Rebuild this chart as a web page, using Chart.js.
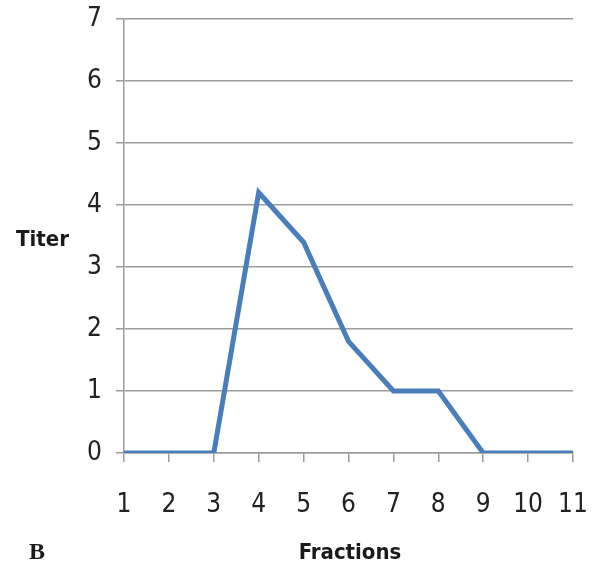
<!DOCTYPE html>
<html>
<head>
<meta charset="utf-8">
<script src="https://cdn.jsdelivr.net/npm/chart.js@4.4.1/dist/chart.umd.min.js"></script>
<style>
  html, body { margin: 0; padding: 0; background: #fff; }
  #wrap { width: 598px; height: 572px; position: relative; }
</style>
</head>
<body>
<div id="wrap"><canvas id="titerChart"></canvas></div>
<script>
// datos
const fractions = ['1', '2', '3', '4', '5', '6', '7', '8', '9', '10', '11'];
const titer = [0, 0, 0, 4.2, 3.4, 1.8, 1.0, 1.0, 0, 0, 0];
const yMin = 0;
const yMax = 7;

const tickFont = { family: "'Liberation Sans Narrow', 'DejaVu Sans Condensed', Lato, sans-serif", size: 26 };
const gridGray = '#9b9b9b';

// textos fuera de los ejes: Titer, Fractions, B
const extraLabels = {
    id: 'extraLabels',
    afterDraw: (chart) => {
        const { ctx } = chart;
        ctx.save();
        ctx.fillStyle = '#1a1a1a';
        ctx.textBaseline = 'middle';
        ctx.textAlign = 'left';
        ctx.font = "bold 22px 'Liberation Sans Narrow', 'DejaVu Sans Condensed', Lato, sans-serif";
        ctx.fillText('Titer', 16, 240);
        ctx.textAlign = 'center';
        ctx.fillText('Fractions', 350, 553);
        ctx.font = "bold 24px 'Liberation Serif', 'DejaVu Serif', serif";
        ctx.textAlign = 'left';
        ctx.fillText('B', 29, 553);
        ctx.restore();
    }
};

new Chart(document.getElementById('titerChart'), {
    type: 'line',
    data: {
        labels: fractions,
        datasets: [{
            data: titer,
            borderColor: '#4a7ebb',
            borderWidth: 5,
            pointRadius: 0,
            tension: 0,
            fill: false,
            borderJoinStyle: 'miter'
        }]
    },
    options: {
        responsive: true,
        maintainAspectRatio: false,
        animation: false,
        layout: { padding: { top: 19, right: 25, left: 0, bottom: 0 } },
        plugins: {
            legend: { display: false },
            tooltip: { enabled: false }
        },
        scales: {
            x: {
                type: 'category',
                offset: false,
                grid: { drawOnChartArea: false, drawTicks: true, tickLength: 9, color: gridGray, lineWidth: 1.5 },
                border: { display: true, color: gridGray, width: 1.5 },
                ticks: { color: '#222', font: tickFont, padding: 28, maxRotation: 0, autoSkip: false },
                afterFit: (scale) => {
                    scale.height = 119;
                    scale.paddingLeft = 0;
                    scale.paddingRight = 0;
                }
            },
            y: {
                min: yMin,
                max: yMax,
                grid: { color: gridGray, lineWidth: 1.5, tickLength: 8 },
                border: { display: true, color: gridGray, width: 1.5 },
                ticks: { stepSize: 1, color: '#222', font: tickFont, padding: 14 },
                afterFit: (scale) => {
                    scale.width = 124;
                    scale.paddingTop = 0;
                    scale.paddingBottom = 0;
                }
            }
        }
    },
    plugins: [extraLabels]
});
</script>
</body>
</html>
